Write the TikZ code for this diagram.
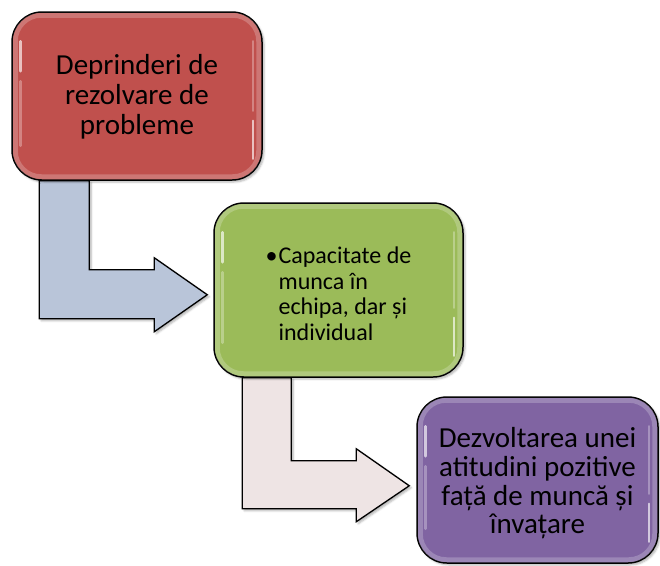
\documentclass[tikz,border=0pt]{standalone}
\usepackage{fontspec}
\setmainfont{Carlito}
\usetikzlibrary{backgrounds,shadows.blur}
\definecolor{stepred}{HTML}{C0504D}
\definecolor{stepgreen}{HTML}{9BBB59}
\definecolor{steppurple}{HTML}{8064A2}
\definecolor{arrowblue}{HTML}{B9C5D9}
\definecolor{arrowrose}{HTML}{EEE4E4}
\begin{document}
\begin{tikzpicture}[x=1pt,y=-1pt,
	stepbox/.style={draw=black,line width=1.5pt,rounded corners=30pt,inner sep=0pt,align=center,
		blur shadow={shadow xshift=2pt,shadow yshift=-2pt,shadow blur steps=4,shadow opacity=30}},
	bevel/.style={white,opacity=0.22,line width=5pt,rounded corners=26pt},
	gloss/.style={white,opacity=0.65,line width=2.5pt,line cap=round},
	bentarrow/.style={draw=black,line width=1.3pt,line join=miter,
		blur shadow={shadow xshift=2pt,shadow yshift=-2pt,shadow blur steps=4,shadow opacity=30}}]
	\useasboundingbox (0,0) rectangle (660,565);
	\node[stepbox,fill=stepred,minimum width=250pt,minimum height=168pt] (red) at (137,96)
		{\fontsize{29}{30}\selectfont\raisebox{-2pt}[\height][\depth]{\begin{tabular}{@{}c@{}}
		Deprinderi de\\rezolvare de\\probleme\end{tabular}}};%erste Stufe
	\node[stepbox,fill=stepgreen,minimum width=249pt,minimum height=174pt] (green) at (338.5,290)
		{\fontsize{24}{25.5}\selectfont\raisebox{-7pt}[\height][\depth]{\begin{tabular}{@{}l@{\hspace{1pt}}l@{}}
		\textbullet&Capacitate de\\&munca în\\&echipa, dar și\\&individual\end{tabular}}};%zweite Stufe
	\node[stepbox,fill=steppurple,minimum width=241pt,minimum height=166pt] (purple) at (537.5,480)
		{\fontsize{29}{28.5}\selectfont\raisebox{-5pt}[\height][\depth]{\begin{tabular}{@{}c@{}}
		Dezvoltarea unei\\atitudini pozitive\\față de muncă și\\învațare\end{tabular}}};%dritte Stufe
	% Glanz
	\foreach \b in {red,green,purple}{
		\draw[bevel] ([shift={(4,4)}]\b.north west) rectangle ([shift={(-4,-4)}]\b.south east);
		\draw[gloss] ([shift={(9,30)}]\b.north west) -- ([shift={(9,60)}]\b.north west);
		\draw[gloss,opacity=0.3] ([shift={(9,70)}]\b.north west) -- ([shift={(9,-35)}]\b.south west);
		\draw[gloss] ([shift={(-10,-60)}]\b.south east) -- ([shift={(-10,-22)}]\b.south east);
		\draw[gloss,opacity=0.3] ([shift={(-10,30)}]\b.north east) -- ([shift={(-10,-70)}]\b.south east);
	}
	\begin{pgfonlayer}{background}
	\draw[bentarrow,fill=arrowblue] ([xshift=28pt]red.south west) --++(0,138) --++(115,0) --++(0,13)
		--++(53,-37) --++(-53,-37) --++(0,12) --++(-65,0) --++(0,-89) -- cycle;%Pfeil rot-gruen
	\draw[bentarrow,fill=arrowrose] ([xshift=29pt]green.south west) --++(0,131) --++(114,0) --++(0,13)
		--++(53,-36) --++(-53,-37) --++(0,12) --++(-65,0) --++(0,-83) -- cycle;%Pfeil gruen-lila
	\end{pgfonlayer}
\end{tikzpicture}
\end{document}
